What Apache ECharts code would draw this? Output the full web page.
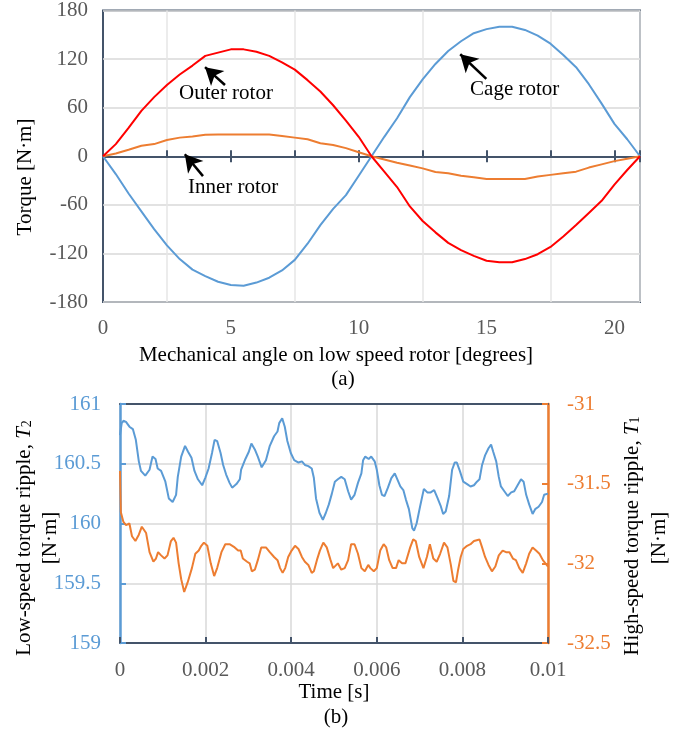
<!DOCTYPE html>
<html><head><meta charset="utf-8">
<script src="https://cdn.jsdelivr.net/npm/echarts@6/dist/echarts.min.js"></script>
<style>html,body{margin:0;padding:0;background:#fff}#c{width:687px;height:736px}</style>
</head><body><div id="c"></div>
<script>
// ---- (a) torque vs mechanical angle ----
const angleDeg = [0,0.5,1,1.5,2,2.5,3,3.5,4,4.5,5,5.5,6,6.5,7,7.5,8,8.5,9,9.5,10,10.5,11,11.5,12,12.5,13,13.5,14,14.5,15,15.5,16,16.5,17,17.5,18,18.5,19,19.5,20,20.5,21];
const outerRotor = [0,15,35,56,73,88,101,112,124,128,132,132,129,124,116,107,94,80,63,44,24,0,-19,-38,-62,-80,-94,-107,-116,-123,-129,-131,-131,-127,-121,-112,-99,-85,-70,-55,-35,-17,0];
const cageRotor = [0,-22,-46,-68,-90,-110,-127,-140,-148,-155,-159,-160,-156,-150,-141,-128,-108,-85,-65,-48,-24,0,24,47,73,95,114,130,142,152,157,160,160,156,149,139,125,110,89,65,40,21,0];
const innerRotor = [0,3.5,8,13,15,20,23,24.5,26.5,27,27,27,27,27,25,23,21,16,14,10,5,0,-4,-8,-11.5,-15,-19.5,-21,-24,-26,-28,-28,-28,-28,-25,-23,-21,-19,-14,-10,-6,-3,0];
const torqueTicks = [-180,-120,-60,0,60,120,180];
const angleLabels = [0,5,10,15,20];

// ---- (b) torque ripple vs time: [time s, torque N·m] ----
const lowSpeedT2 = [[0,160.74],[0.00004,160.84],[0.00008,160.86],[0.00014,160.85],[0.00022,160.81],[0.0003,160.79],[0.00037,160.70],[0.00044,160.52],[0.00049,160.44],[0.00059,160.40],[0.00069,160.45],[0.00076,160.56],[0.00083,160.54],[0.00088,160.46],[0.00096,160.44],[0.00106,160.35],[0.00114,160.21],[0.00123,160.18],[0.00131,160.24],[0.00135,160.39],[0.00143,160.56],[0.00152,160.65],[0.00159,160.60],[0.00167,160.55],[0.00174,160.44],[0.00182,160.37],[0.00192,160.32],[0.00199,160.38],[0.00207,160.46],[0.00215,160.59],[0.00221,160.70],[0.00227,160.69],[0.00235,160.59],[0.00241,160.49],[0.00248,160.41],[0.00256,160.34],[0.00262,160.30],[0.00272,160.33],[0.0028,160.37],[0.00283,160.45],[0.00293,160.54],[0.00301,160.60],[0.00307,160.67],[0.00311,160.67],[0.00315,160.62],[0.00322,160.56],[0.00331,160.47],[0.00341,160.53],[0.0035,160.65],[0.0036,160.73],[0.00368,160.77],[0.00372,160.84],[0.00379,160.88],[0.00385,160.81],[0.00391,160.69],[0.00399,160.59],[0.00407,160.53],[0.00417,160.51],[0.00425,160.52],[0.00432,160.49],[0.0044,160.48],[0.00448,160.46],[0.00453,160.38],[0.00458,160.21],[0.00466,160.09],[0.00474,160.03],[0.00481,160.09],[0.00488,160.16],[0.00495,160.25],[0.00502,160.35],[0.00509,160.37],[0.00517,160.39],[0.00525,160.37],[0.00533,160.27],[0.0054,160.20],[0.00548,160.24],[0.00556,160.34],[0.00564,160.42],[0.00568,160.53],[0.00573,160.56],[0.00581,160.54],[0.00587,160.56],[0.00595,160.52],[0.006,160.45],[0.00606,160.32],[0.00612,160.24],[0.00618,160.23],[0.00626,160.30],[0.00634,160.38],[0.00642,160.42],[0.00648,160.37],[0.00655,160.31],[0.00662,160.28],[0.00668,160.20],[0.00675,160.12],[0.00683,159.96],[0.00687,159.94],[0.00693,160.00],[0.00701,160.14],[0.0071,160.29],[0.00718,160.26],[0.00726,160.26],[0.00734,160.28],[0.00741,160.22],[0.00749,160.15],[0.00755,160.08],[0.00761,160.10],[0.00769,160.23],[0.00776,160.45],[0.00782,160.51],[0.00787,160.51],[0.00794,160.44],[0.00802,160.35],[0.00811,160.33],[0.00819,160.31],[0.00827,160.32],[0.00834,160.35],[0.0084,160.37],[0.00846,160.49],[0.00853,160.57],[0.00861,160.63],[0.00867,160.66],[0.00872,160.60],[0.00879,160.52],[0.00885,160.39],[0.0089,160.31],[0.00898,160.27],[0.00906,160.23],[0.00914,160.26],[0.00921,160.27],[0.00929,160.32],[0.00937,160.37],[0.00943,160.35],[0.00949,160.24],[0.00956,160.16],[0.00964,160.08],[0.0097,160.12],[0.00978,160.14],[0.00986,160.18],[0.00991,160.24],[0.01,160.25]];
const highSpeedT1 = [[0,-31.42],[0.00002,-31.68],[0.00008,-31.74],[0.00014,-31.76],[0.00022,-31.75],[0.00028,-31.83],[0.00036,-31.86],[0.00044,-31.82],[0.00051,-31.77],[0.00061,-31.81],[0.00069,-31.93],[0.00078,-31.99],[0.00084,-31.97],[0.00089,-31.93],[0.00096,-31.95],[0.00104,-31.97],[0.00111,-31.95],[0.00119,-31.86],[0.00125,-31.84],[0.00131,-31.87],[0.00137,-32.00],[0.00143,-32.10],[0.0015,-32.18],[0.00158,-32.12],[0.00168,-32.03],[0.00176,-31.94],[0.00184,-31.92],[0.0019,-31.89],[0.00196,-31.87],[0.00204,-31.89],[0.00212,-32.00],[0.0022,-32.08],[0.00227,-32.03],[0.00237,-31.93],[0.00246,-31.88],[0.00256,-31.88],[0.00268,-31.90],[0.00276,-31.92],[0.00282,-31.92],[0.00287,-31.97],[0.00297,-31.99],[0.00303,-32.00],[0.00308,-32.05],[0.00315,-32.04],[0.00322,-31.98],[0.0033,-31.90],[0.00341,-31.90],[0.0035,-31.93],[0.0036,-31.96],[0.00368,-31.98],[0.00374,-32.03],[0.0038,-32.06],[0.00386,-32.03],[0.00393,-31.96],[0.00401,-31.92],[0.00409,-31.89],[0.00417,-31.91],[0.00425,-31.96],[0.00432,-31.99],[0.0044,-32.01],[0.00448,-32.06],[0.00453,-32.05],[0.0046,-31.98],[0.00467,-31.92],[0.00475,-31.87],[0.00483,-31.90],[0.00492,-31.98],[0.00498,-32.03],[0.00502,-32.03],[0.00509,-32.00],[0.00517,-32.04],[0.00525,-32.03],[0.00533,-31.98],[0.0054,-31.88],[0.00548,-31.88],[0.00556,-31.94],[0.00564,-32.03],[0.00572,-32.05],[0.0058,-32.01],[0.00585,-32.03],[0.00593,-32.05],[0.006,-32.03],[0.00608,-31.92],[0.00616,-31.88],[0.00622,-31.90],[0.00629,-31.98],[0.00637,-32.03],[0.00645,-32.03],[0.00651,-31.98],[0.00659,-32.00],[0.00667,-32.00],[0.00678,-31.90],[0.00685,-31.85],[0.00691,-31.86],[0.00699,-31.96],[0.00709,-32.03],[0.00717,-31.96],[0.00724,-31.88],[0.00732,-31.97],[0.0074,-31.99],[0.00748,-31.94],[0.00757,-31.87],[0.00765,-31.90],[0.00773,-32.01],[0.00779,-32.11],[0.00785,-32.12],[0.0079,-32.04],[0.00796,-31.96],[0.00802,-31.91],[0.00811,-31.89],[0.00819,-31.88],[0.00827,-31.86],[0.0084,-31.85],[0.00846,-31.90],[0.00853,-31.96],[0.00861,-32.01],[0.00869,-32.05],[0.00877,-32.02],[0.00885,-31.95],[0.00894,-31.92],[0.00902,-31.93],[0.0091,-31.93],[0.00918,-31.97],[0.00925,-31.98],[0.00933,-32.03],[0.00941,-32.06],[0.00949,-32.00],[0.00956,-31.94],[0.00964,-31.90],[0.00972,-31.92],[0.0098,-31.94],[0.00988,-31.98],[0.00994,-32.00],[0.01,-32.02]];
const leftTicks = [159,159.5,160,160.5,161];
const rightTicks = [-32.5,-32,-31.5,-31];
const timeTicks = [0,0.002,0.004,0.006,0.008,0.01];

// annotations (data coordinates): [label, textX, textY, tipX, tipY, tailX, tailY]
const notes = [
  ['Outer rotor', 4.81, 77, 3.99, 110, 4.77, 88],
  ['Inner rotor', 5.09, -38, 3.2, 2.4, 3.91, -24.5],
  ['Cage rotor', 16.1, 83, 13.97, 126, 14.99, 95.5]
];

const FF = '"Liberation Serif","Times New Roman",serif';
const FS = 21;
const DARK = '#44546a', BLUE = '#5b9bd5', ORANGE = '#ed7d31', RED = '#ff0000', GREY = '#595959';

const chart = echarts.init(document.getElementById('c'), null, {renderer: 'canvas'});
const pair = arr => angleDeg.map((x, i) => [x, arr[i]]);

const option = {
  animation: false,
  backgroundColor: '#fff',
  textStyle: {fontFamily: FF},
  grid: [
    {left: 103, top: 8, width: 537, height: 294, show: true, borderColor: DARK, borderWidth: 2, backgroundColor: 'transparent', containLabel: false},
    {left: 120, top: 404, width: 428, height: 239, containLabel: false}
  ],
  xAxis: [
    {gridIndex: 0, type: 'value', position: 'bottom', min: 0, max: 21, interval: 2.5,
     axisLine: {show: false, onZero: false}, axisTick: {show: false},
     axisLabel: {color: GREY, fontSize: FS, fontFamily: FF, margin: 16,
       formatter: v => angleLabels.indexOf(v) >= 0 ? String(v) : ''},
     splitLine: {show: true, lineStyle: {color: ['rgba(0,0,0,0)', '#e6e6e6'], width: 1.5}}},
    {gridIndex: 0, type: 'value', position: 'bottom', min: 0, max: 21, interval: 2.5,
     axisLine: {show: true, onZero: true, onZeroAxisIndex: 0, lineStyle: {color: DARK, width: 2}},
     axisTick: {show: true, inside: true, length: 6, lineStyle: {color: DARK, width: 2}},
     axisLabel: {show: false}, splitLine: {show: false}},
    {gridIndex: 0, type: 'value', position: 'bottom', min: 0, max: 21, interval: 5,
     axisLine: {show: false, onZero: true, onZeroAxisIndex: 0},
     axisTick: {show: true, inside: false, length: 6, lineStyle: {color: DARK, width: 2}},
     axisLabel: {show: false}, splitLine: {show: false}},
    {gridIndex: 1, type: 'value', position: 'bottom', min: 0, max: 0.01, interval: 0.002,
     axisLine: {show: true, onZero: false, lineStyle: {color: DARK, width: 2}},
     axisTick: {show: true, inside: true, length: 6, lineStyle: {color: DARK, width: 2}},
     axisLabel: {color: GREY, fontSize: FS, fontFamily: FF, margin: 17,
       formatter: v => { const t = timeTicks.find(k => Math.abs(k - v) < 1e-9); return t === undefined ? '' : String(t); }},
     splitLine: {show: true, lineStyle: {color: '#d9d9d9', width: 1.5}}},
    {gridIndex: 1, type: 'value', position: 'top', min: 0, max: 0.01, interval: 0.002,
     axisLine: {show: true, onZero: false, lineStyle: {color: DARK, width: 2}},
     axisTick: {show: false}, axisLabel: {show: false}, splitLine: {show: false}}
  ],
  yAxis: [
    {gridIndex: 0, type: 'value', position: 'left', min: torqueTicks[0], max: torqueTicks[torqueTicks.length - 1], interval: 60,
     axisLine: {show: false, onZero: false}, axisTick: {show: false},
     axisLabel: {color: GREY, fontSize: FS, fontFamily: FF, margin: 15},
     splitLine: {show: true, lineStyle: {color: '#d9d9d9', width: 1.5}}},
    {gridIndex: 1, type: 'value', position: 'left', min: leftTicks[0], max: leftTicks[leftTicks.length - 1], interval: 0.5,
     axisLine: {show: true, onZero: false, lineStyle: {color: BLUE, width: 2.5}},
     axisTick: {show: true, inside: true, length: 6, lineStyle: {color: BLUE, width: 2}},
     axisLabel: {color: BLUE, fontSize: FS, fontFamily: FF, margin: 19},
     splitLine: {show: true, lineStyle: {color: '#d9d9d9', width: 1.5}}},
    {gridIndex: 1, type: 'value', position: 'right', min: rightTicks[0], max: rightTicks[rightTicks.length - 1], interval: 0.5,
     axisLine: {show: true, onZero: false, lineStyle: {color: ORANGE, width: 2.5}},
     axisTick: {show: true, inside: true, length: 6, lineStyle: {color: ORANGE, width: 2}},
     axisLabel: {color: ORANGE, fontSize: FS, fontFamily: FF, margin: 19},
     splitLine: {show: false}}
  ],
  series: [
    {type: 'line', name: 'Cage rotor', xAxisIndex: 0, yAxisIndex: 0, data: pair(cageRotor),
     showSymbol: false, lineStyle: {color: BLUE, width: 2}, itemStyle: {color: BLUE}, z: 3},
    {type: 'line', name: 'Inner rotor', xAxisIndex: 0, yAxisIndex: 0, data: pair(innerRotor),
     showSymbol: false, lineStyle: {color: ORANGE, width: 2}, itemStyle: {color: ORANGE}, z: 3},
    {type: 'line', name: 'Outer rotor', xAxisIndex: 0, yAxisIndex: 0, data: pair(outerRotor),
     showSymbol: false, lineStyle: {color: RED, width: 2}, itemStyle: {color: RED}, z: 4,
     markLine: {silent: true, symbol: ['none', 'arrow'], symbolSize: [15, 17], animation: false,
       lineStyle: {color: '#000', width: 2.5, type: 'solid'}, label: {show: false},
       emphasis: {disabled: true},
       data: notes.map(n => [{coord: [n[5], n[6]]}, {coord: [n[3], n[4]]}])},
     markPoint: {silent: true, symbol: 'circle', symbolSize: 1, itemStyle: {color: 'rgba(0,0,0,0)'},
       label: {show: true, position: 'inside', color: '#000', fontSize: FS, fontFamily: FF, formatter: p => p.name},
       data: notes.map(n => ({name: n[0], coord: [n[1], n[2]]}))}},
    {type: 'line', name: 'T2', xAxisIndex: 3, yAxisIndex: 1, data: lowSpeedT2,
     showSymbol: false, lineStyle: {color: BLUE, width: 2}, itemStyle: {color: BLUE}},
    {type: 'line', name: 'T1', xAxisIndex: 3, yAxisIndex: 2, data: highSpeedT1,
     showSymbol: false, lineStyle: {color: ORANGE, width: 2}, itemStyle: {color: ORANGE}}
  ],
  graphic: [
    {type: 'text', x: 25, y: 177, rotation: Math.PI / 2,
     style: {text: 'Torque [N·m]', fill: '#000', fontSize: FS, fontFamily: FF, align: 'center', verticalAlign: 'middle'}},
    {type: 'text', x: 336, y: 355,
     style: {text: 'Mechanical angle on low speed rotor [degrees]', fill: '#000', fontSize: FS, fontFamily: FF, align: 'center', verticalAlign: 'middle'}},
    {type: 'text', x: 343, y: 379,
     style: {text: '(a)', fill: '#000', fontSize: FS, fontFamily: FF, align: 'center', verticalAlign: 'middle'}},
    {type: 'text', x: 334, y: 692,
     style: {text: 'Time [s]', fill: '#000', fontSize: FS, fontFamily: FF, align: 'center', verticalAlign: 'middle'}},
    {type: 'text', x: 336, y: 717,
     style: {text: '(b)', fill: '#000', fontSize: FS, fontFamily: FF, align: 'center', verticalAlign: 'middle'}},
    {type: 'text', x: 24, y: 538, rotation: Math.PI / 2,
     style: {text: 'Low-speed torque ripple, {i|T}{s|2}', fill: '#000', fontSize: FS, fontFamily: FF, align: 'center', verticalAlign: 'middle',
       rich: {i: {fontStyle: 'italic', fontSize: FS, fontFamily: FF, fill: '#000'}, s: {fontSize: 14, fontFamily: FF, verticalAlign: 'bottom', fill: '#000'}}}},
    {type: 'text', x: 50, y: 538, rotation: Math.PI / 2,
     style: {text: '[N·m]', fill: '#000', fontSize: FS, fontFamily: FF, align: 'center', verticalAlign: 'middle'}},
    {type: 'text', x: 632, y: 536, rotation: Math.PI / 2,
     style: {text: 'High-speed torque ripple, {i|T}{s|1}', fill: '#000', fontSize: FS, fontFamily: FF, align: 'center', verticalAlign: 'middle',
       rich: {i: {fontStyle: 'italic', fontSize: FS, fontFamily: FF, fill: '#000'}, s: {fontSize: 14, fontFamily: FF, verticalAlign: 'bottom', fill: '#000'}}}},
    {type: 'text', x: 659, y: 538, rotation: Math.PI / 2,
     style: {text: '[N·m]', fill: '#000', fontSize: FS, fontFamily: FF, align: 'center', verticalAlign: 'middle'}}
  ]
};
chart.setOption(option);
</script>
</body></html>
